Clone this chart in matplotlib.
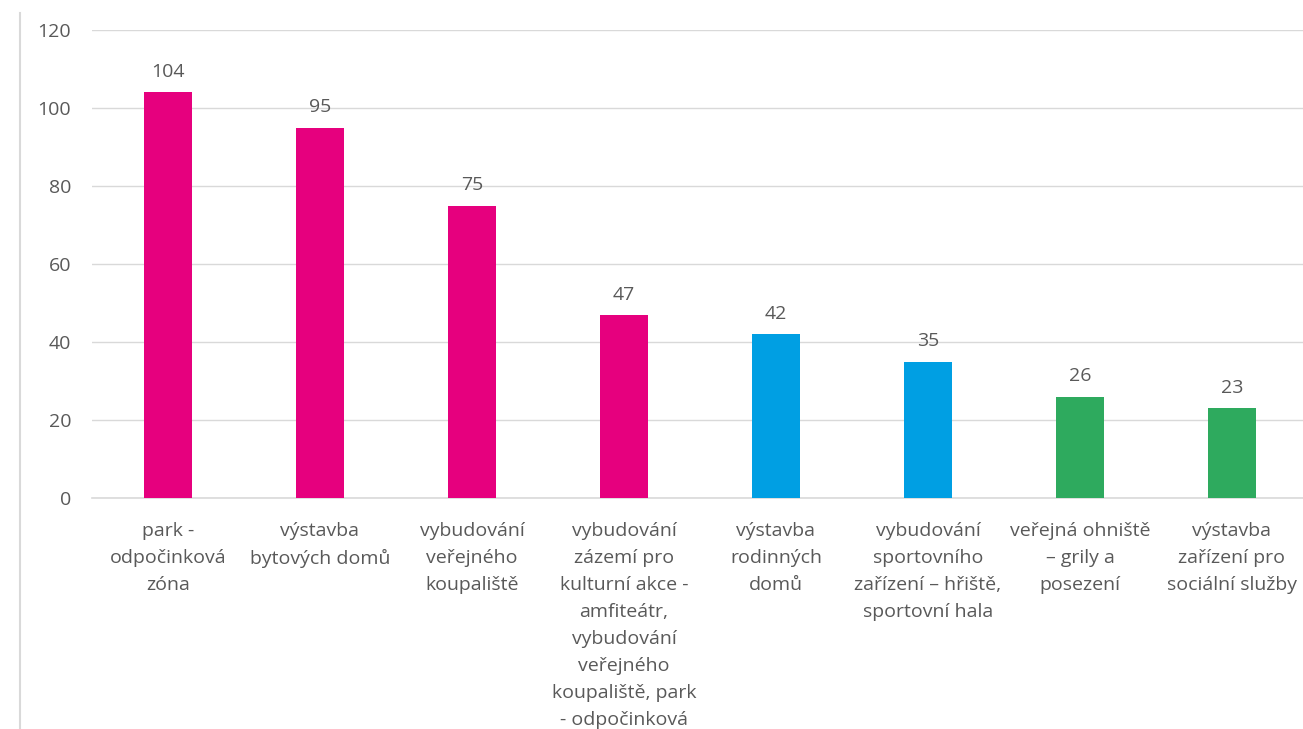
import numpy as np
import matplotlib.pyplot as plt
from matplotlib.lines import Line2D

# data
categories = [
    "park -\nodpočinková\nzóna",
    "výstavba\nbytových domů",
    "vybudování\nveřejného\nkoupaliště",
    "vybudování\nzázemí pro\nkulturní akce -\namfiteátr,\nvybudování\nveřejného\nkoupaliště, park\n- odpočinková\nzóna",
    "výstavba\nrodinných\ndomů",
    "vybudování\nsportovního\nzařízení – hřiště,\nsportovní hala",
    "veřejná ohniště\n– grily a\nposezení",
    "výstavba\nzařízení pro\nsociální služby",
]
values = [104, 95, 75, 47, 42, 35, 26, 23]
groups = ["pink", "pink", "pink", "pink", "blue", "blue", "green", "green"]

palette = {"pink": "#E6007E", "blue": "#009FE3", "green": "#2EAA5E"}
text_col = "#595959"

plt.rcParams['font.family'] = ['Open Sans', 'DejaVu Sans']

fig = plt.figure(figsize=(13.03, 7.29), dpi=100)
ax = fig.add_axes([92 / 1303, 1 - 498 / 729, 1216 / 1303, 468 / 729])

x = np.arange(len(values))
bars = ax.bar(x, values, width=0.31, color=[palette[g] for g in groups], zorder=3)

for xi, v in zip(x, values):
    ax.annotate(str(v), (xi, v), xytext=(0, 8), textcoords='offset points',
                ha='center', va='bottom', fontsize=14, color=text_col)

ax.set_xlim(-0.5, len(values) - 0.5)
ax.set_ylim(0, 120)
ax.set_yticks(np.arange(0, 121, 20))
ax.set_xticks(x)
ax.set_xticklabels(categories, fontsize=14, color=text_col, linespacing=1.65, va='top')
ax.tick_params(axis='x', length=0, pad=17)
ax.tick_params(axis='y', length=0, pad=15, labelsize=14, labelcolor=text_col)
ax.grid(axis='y', color='#D9D9D9', linewidth=1, zorder=0)
for s in ['top', 'right', 'left']:
    ax.spines[s].set_visible(False)
ax.spines['bottom'].set_color('#D9D9D9')
ax.spines['bottom'].set_linewidth(1.2)

# outer frame line on the left
fig.add_artist(Line2D([20 / 1303, 20 / 1303], [0, 1 - 13 / 729],
                      transform=fig.transFigure, color='#D9D9D9', linewidth=1.5))

fig.savefig('out.png', dpi=100)
